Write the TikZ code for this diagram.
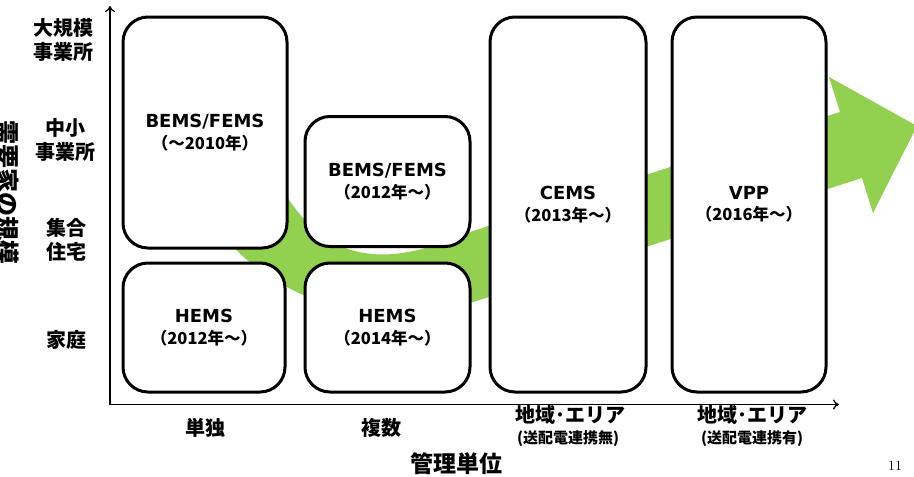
\documentclass[tikz,border=0pt]{standalone}
\usepackage{fontspec}
\usetikzlibrary{arrows.meta}
\newfontfamily\jp{Noto Sans CJK JP}
\newfontfamily\lat{DejaVu Sans}
\definecolor{grn}{RGB}{146,208,80}
\tikzset{
  box/.style={draw=black, line width=3pt, rounded corners=25pt, fill=white, align=center, inner sep=0pt, font=\fontsize{16}{21.5}\selectfont},
  ax/.style={line width=1.3pt, -{To[length=6pt,width=10pt]}},
  lab/.style={font=\jp\bfseries\fontsize{20}{24}\selectfont, align=center, inner sep=0pt},
  sublab/.style={font=\jp\bfseries\fontsize{15}{18}\selectfont, inner sep=0pt},
}
\newcommand{\bxl}[2]{{\lat\bfseries\fontsize{18}{21.5}\selectfont #1}\\{\jp\bfseries\fontsize{16.5}{21.5}\selectfont #2}}
\begin{document}
\begin{tikzpicture}[x=1pt,y=-1pt]
\useasboundingbox (0,0) rectangle (914,477);
\clip (0,0) rectangle (914,477);
\fill[white] (0,0) rectangle (914,477);
% green arrow
\fill[grn] (215,225) .. controls (270,302) and (380,334) .. (470,303)
  -- (862,178) -- (873,213) -- (917,126) -- (829,77) -- (840,112)
  -- (470,232) .. controls (400,262) and (330,275) .. (280,185) -- cycle;
% boxes
\node[box, minimum width=164pt, minimum height=231pt] (bfa) at (205,132.5) {\bxl{BEMS/FEMS}{（～2010年）}};
\node[box, minimum width=162pt, minimum height=129pt] (hea) at (204,327.5) {\bxl{HEMS}{（2012年～）}};
\node[box, minimum width=165pt, minimum height=130pt] (bfb) at (387.5,181.5) {\bxl{BEMS/FEMS}{（2012年～）}};
\node[box, minimum width=165pt, minimum height=129pt] (heb) at (387.5,327.5) {\bxl{HEMS}{（2014年～）}};
\node[box, minimum width=156pt, minimum height=375pt] (cems) at (568,204.5) {\bxl{CEMS}{（2013年～）}};
\node[box, minimum width=154pt, minimum height=375pt] (vpp) at (749,204.5) {\bxl{VPP}{（2016年～）}};
% axes
\coordinate (o) at (110,404.5);
\coordinate (ytop) at (110,6);
\coordinate (xend) at (839,404.5);
\draw[ax] ([yshift=-0.7pt]o) -- (ytop);
\draw[ax] ([xshift=-0.7pt]o) -- (xend);
% y labels
\node[lab] (y1) at (64,40) {大規模\\事業所};
\node[lab] (y2) at (65,140) {中小\\事業所};
\node[lab] (y3) at (66,240) {集合\\住宅};
\node[lab] (y4) at (66,340) {家庭};
\node[font=\jp\bfseries\fontsize{24}{24}\selectfont, rotate=-90, inner sep=0pt] (ytitle) at (8,192) {需要家の規模};
% x labels
\node[lab] (x1) at (205,428) {単独};
\node[lab] (x2) at (381,428) {複数};
\node[lab] (x3) at (570,415) {地域･エリア};
\node[sublab] (x3b) at (568,439) {(送配電連携無)};
\node[lab] (x4) at (752,415) {地域･エリア};
\node[sublab] (x4b) at (752,439) {(送配電連携有)};
\node[font=\jp\bfseries\fontsize{23}{23}\selectfont, inner sep=0pt] (xtitle) at (456,464) {管理単位};
\node[font=\fontsize{14}{14}\selectfont, inner sep=0pt] (pg) at (895,466) {11};
\end{tikzpicture}
\end{document}
